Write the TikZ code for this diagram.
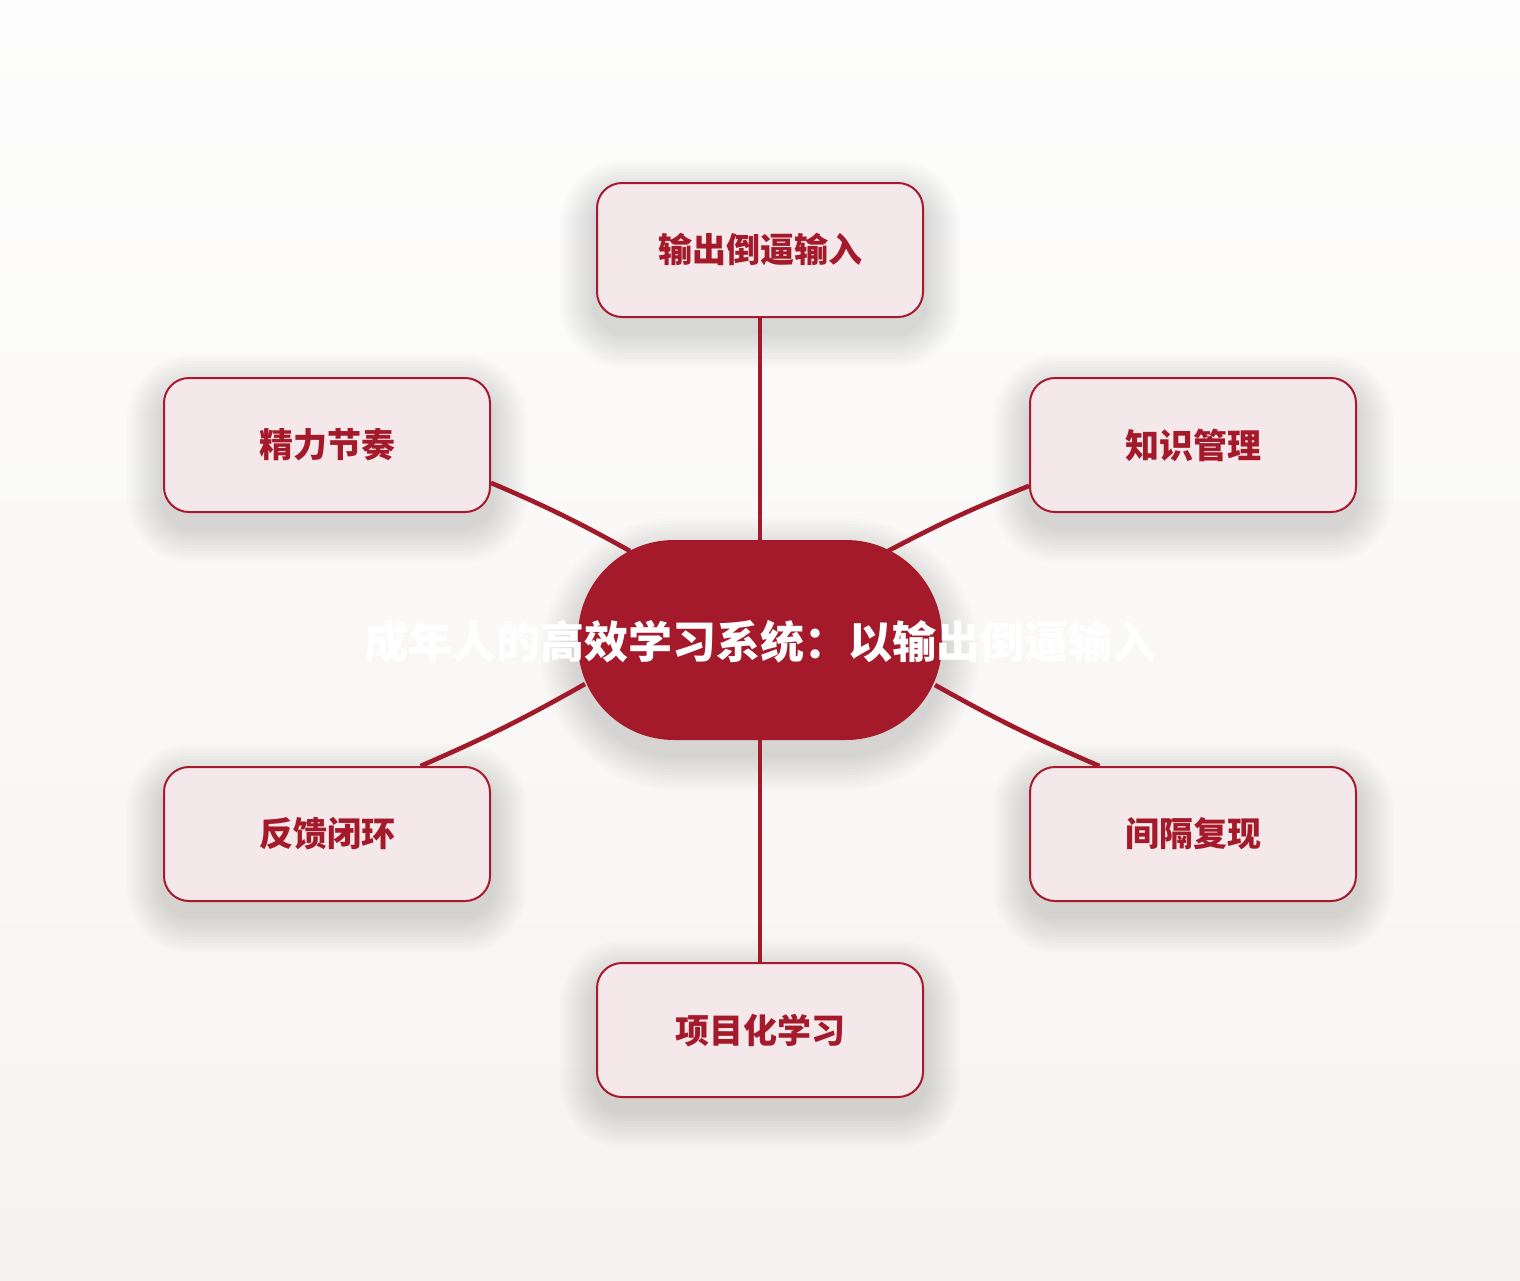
\documentclass[tikz,border=0pt]{standalone}
\usepackage{fontspec}
\setmainfont{Noto Sans CJK SC}
\usepackage{tikz}
\usetikzlibrary{calc}
\definecolor{hubred}{HTML}{A51A2B}
\definecolor{boxfill}{HTML}{F5E8EA}
\definecolor{boxline}{HTML}{A8192E}
\definecolor{linkred}{HTML}{A01A29}
\definecolor{bgtop}{HTML}{FDFDFD}
\definecolor{bgbot}{HTML}{F6F4F0}
\pgfdeclarelayer{back}
\pgfdeclarelayer{edges}
\pgfsetlayers{back,edges,main}

\begin{document}
\begin{tikzpicture}[x=0.5pt,y=-0.5pt,topic/.style={shape=rectangle,draw=boxline,line width=1pt,fill=boxfill,rounded corners=12.5pt,minimum width=163pt,minimum height=67pt,text=hubred,font=\fontsize{17pt}{20pt}\selectfont\bfseries},hub/.style={shape=rectangle,fill=hubred,rounded corners=48pt,minimum width=182pt,minimum height=100pt},hubtext/.style={text=white,font=\fontsize{22pt}{26pt}\selectfont\bfseries},link/.style={draw=linkred,line width=2.3pt},haze/.style={fill=black,opacity=0.013}]
\def\cx{760};
\def\cy{640};
\def\dxa{433};
\def\dyb{195};

\begin{pgfonlayer}{back}
\shade[top color=bgtop,bottom color=bgbot] (0,0) rectangle (1520,1280);
\end{pgfonlayer}
\useasboundingbox (0,0) rectangle (1520,1280);

\node[hub] (C) at (\cx,\cy) {};
\node[hubtext] (Ct) at (\cx,\cy+2) {成年人的高效学习系统：以输出倒逼输入};

\node[topic] (T) at (\cx,250) {输出倒逼输入};
\node[topic] (LT) at (\cx-\dxa,\cy-\dyb) {精力节奏};
\node[topic] (RT) at (\cx+\dxa,\cy-\dyb) {知识管理};
\node[topic] (LB) at (\cx-\dxa,\cy+\dyb-1) {反馈闭环};
\node[topic] (RB) at (\cx+\dxa,\cy+\dyb-1) {间隔复现};
\node[topic] (B) at (\cx,1030) {项目化学习};

% soft shadows
\begin{pgfonlayer}{back}
\foreach \n in {T,LT,RT,LB,RB,B}
  \foreach \k in {1,...,12}
    \fill[haze,rounded corners=14pt+\k*1.5pt] ($(\n.north west)+(-3*\k,-3*\k+14)$) rectangle ($(\n.south east)+(3*\k,3*\k+14)$);
\foreach \k in {1,...,12}
  \fill[haze,rounded corners=50pt+\k*1.5pt] ($(C.north west)+(-3*\k,-3*\k+14)$) rectangle ($(C.south east)+(3*\k,3*\k+14)$);
\end{pgfonlayer}

\begin{pgfonlayer}{edges}
\draw[link] (T.south) -- (C.north);
\draw[link] (C.south) -- (B.north);
\draw[link] (LT.-13) to[bend left=3] ($(C.center)+(-130,-89)$);
\draw[link] (RT.-166) to[bend right=3] ($(C.center)+(128,-89)$);
\draw[link] (LB.36) to[bend right=3] ($(C.center)+(-175,44)$);
\draw[link] (RB.144) to[bend left=3] ($(C.center)+(175,45)$);
\end{pgfonlayer}
\end{tikzpicture}
\end{document}
